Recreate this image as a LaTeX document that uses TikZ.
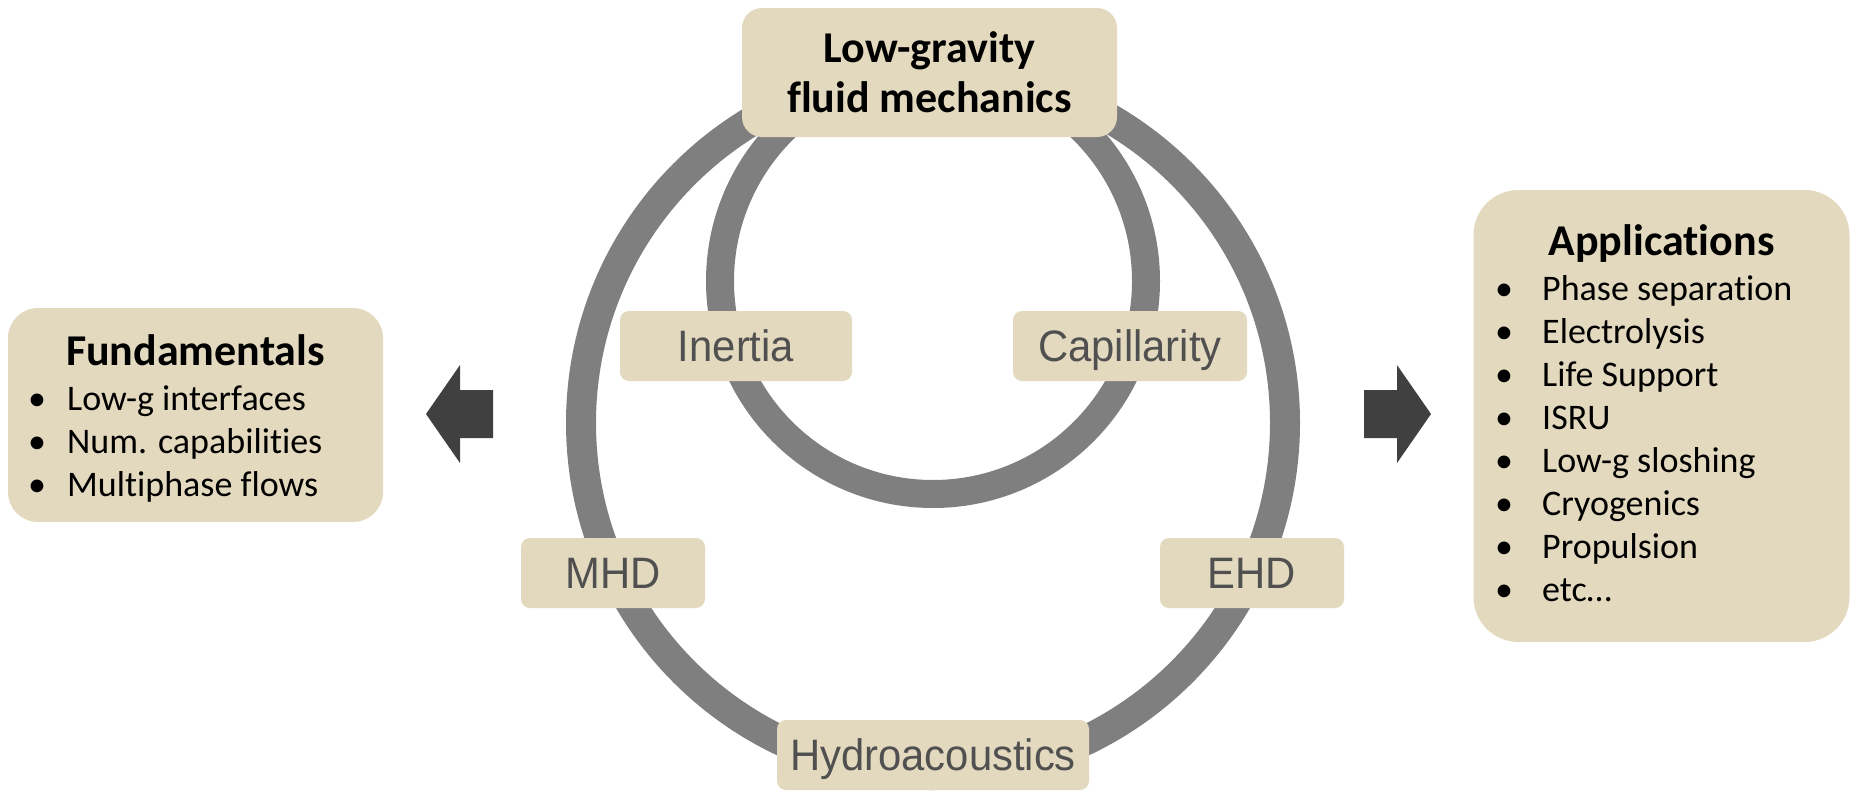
\documentclass[tikz,border=0pt]{standalone}
\usepackage{fontspec}
\setmainfont{Carlito}[Ligatures=NoCommon]
\newfontfamily\tagfont[FakeStretch=0.95]{Liberation Sans}
\definecolor{panelfill}{HTML}{E3D9BE}
\definecolor{ringgray}{HTML}{7F7F7F}
\definecolor{arrowgray}{HTML}{404040}
\definecolor{taggray}{HTML}{505050}

\begin{document}
\begin{tikzpicture}[x=1pt,y=-1pt,
  ring/.style={draw=ringgray},
  panel/.style={fill=panelfill,rounded corners=#1,inner sep=0pt},
  tag/.style={panel=9pt,font=\tagfont\fontsize{44}{48}\selectfont,text=taggray,text height=31pt,text depth=0pt,minimum height=70pt},
  head/.style={font=\bfseries\fontsize{44}{50}\selectfont,anchor=base,inner sep=0pt},
  items/.style={font=\fontsize{36}{43}\selectfont,anchor=base west,inner sep=0pt},
  blockarrow/.style={fill=arrowgray}]
\useasboundingbox (0,0) rectangle (1858,798);
\draw[ring,line width=30pt] (933,423) circle[radius=352];
\draw[ring,line width=28pt] (933,281) circle[radius=213];
\node[panel=20pt,minimum width=375pt,minimum height=129pt,align=center,font=\bfseries\fontsize{44}{50}\selectfont] (lowg) at (929.5,72.5) {Low-gravity\\fluid mechanics};
\node[tag,minimum width=232pt] (inertia) at (736,346) {Inertia};
\node[tag,minimum width=234pt] (capil) at (1130,346) {Capillarity};
\node[tag,minimum width=184pt] (mhd) at (613,573) {MHD};
\node[tag,minimum width=184pt] (ehd) at (1252,573) {EHD};
\node[tag,minimum width=312pt] (hydro) at (933,755) {Hydroacoustics};
\node[panel=30pt,minimum width=375pt,minimum height=214pt] (fund) at (195.5,415) {};
\node[head] (fundhead) at (195.5,365) {Fundamentals};
\node[items] (fundlist) at (28,410) {\begin{tabular}[t]{@{}p{39pt}@{}l@{}}
• & Low-g interfaces\\
• & Num. capabilities\\
• & Multiphase flows
\end{tabular}};
\node[panel=45pt,minimum width=376pt,minimum height=452pt] (apps) at (1661.5,416) {};
\node[head] (appshead) at (1661.5,255) {Applications};
\node[items] (appslist) at (1495,300) {\begin{tabular}[t]{@{}p{47pt}@{}l@{}}
• & Phase separation\\
• & Electrolysis\\
• & Life Support\\
• & ISRU\\
• & Low-g sloshing\\
• & Cryogenics\\
• & Propulsion\\
• & etc…
\end{tabular}};
\fill[blockarrow] (426,414) -- (460,365) -- (460,390) -- (493,390) -- (493,438) -- (460,438) -- (460,463) -- cycle;
\fill[blockarrow] (1431,414) -- (1397,365) -- (1397,390) -- (1364,390) -- (1364,438) -- (1397,438) -- (1397,463) -- cycle;
\end{tikzpicture}
\end{document}
